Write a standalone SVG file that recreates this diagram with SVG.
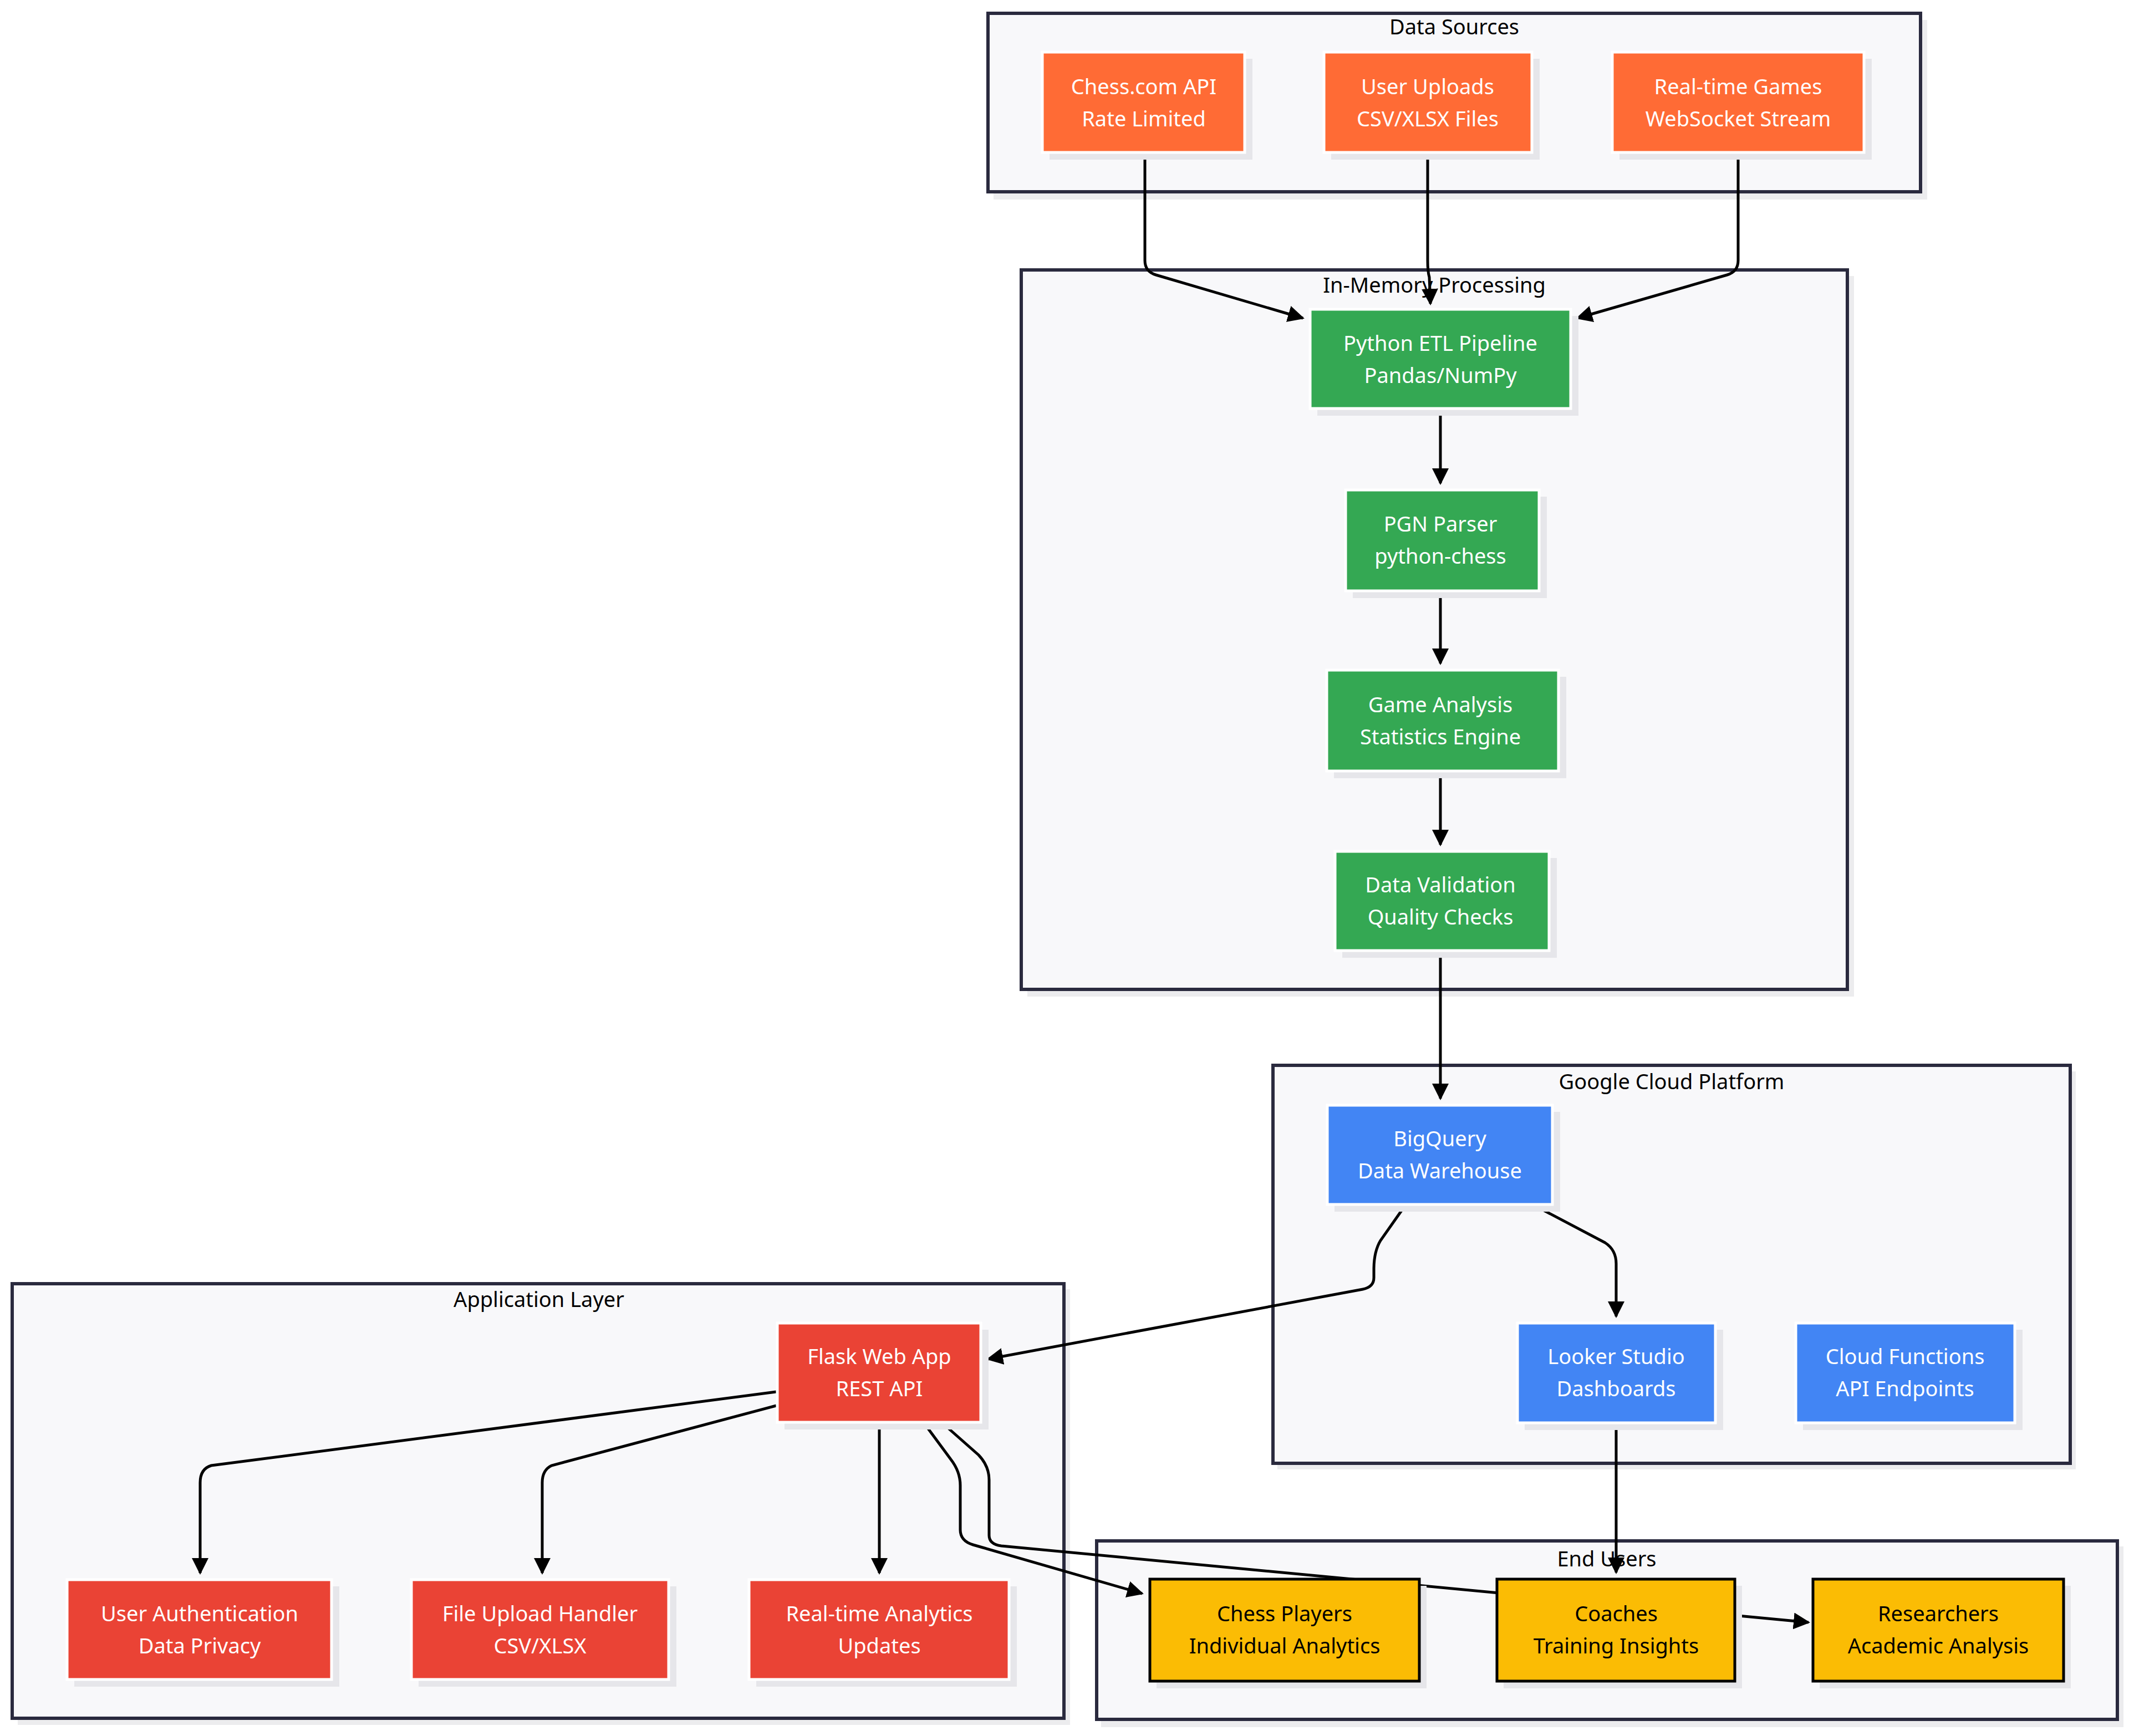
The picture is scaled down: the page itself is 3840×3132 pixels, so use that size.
<svg xmlns="http://www.w3.org/2000/svg" width="3840" height="3132" viewBox="0 0 3840 3132">
<style>
.cl{fill:#f8f8fa;stroke:#2a2a3e;stroke-width:6}
.cs{fill:#ececee}
.sh{fill:#e6e6ea}
.ct{font-family:"Noto Sans",sans-serif;font-size:38px;fill:#000;text-anchor:middle}
.t{font-family:"Noto Sans",sans-serif;font-size:38px;fill:#fff;text-anchor:middle}
.tk{font-family:"Noto Sans",sans-serif;font-size:38px;fill:#000;text-anchor:middle}
.o{fill:#FF6B35;stroke:#fff;stroke-width:5}
.g{fill:#34A853;stroke:#fff;stroke-width:5}
.b{fill:#4285F4;stroke:#fff;stroke-width:5}
.r{fill:#EA4335;stroke:#fff;stroke-width:5}
.y{fill:#FBBC04;stroke:#000;stroke-width:5}
.e{fill:none;stroke:#000;stroke-width:5}
</style>
<defs>
<marker id="ah" viewBox="0 0 10 10" refX="9" refY="5" markerWidth="6" markerHeight="6" markerUnits="strokeWidth" orient="auto">
<path d="M0,0 L10,5 L0,10 z" fill="#000"/>
</marker>
</defs>
<rect width="3840" height="3132" fill="#fff"/>
<g id="clusters">
<rect class="cs" x="1792" y="36" width="1684" height="324"/>
<rect class="cl" x="1782" y="24" width="1682" height="322"/>
<text class="ct" x="2623" y="62">Data Sources</text>
<rect class="cs" x="1853" y="498" width="1491" height="1300"/>
<rect class="cl" x="1842" y="487" width="1490" height="1298"/>
<text class="ct" x="2587" y="528">In-Memory Processing</text>
<rect class="cs" x="2304" y="1933" width="1440" height="718"/>
<rect class="cl" x="2296" y="1922" width="1438" height="718"/>
<text class="ct" x="3015" y="1965">Google Cloud Platform</text>
<rect class="cs" x="32" y="2326" width="1898" height="786"/>
<rect class="cl" x="22" y="2316" width="1897" height="784"/>
<text class="ct" x="972" y="2358">Application Layer</text>
<rect class="cs" x="1986" y="2790" width="1844" height="326"/>
<rect class="cl" x="1978" y="2780" width="1841" height="322"/>
<text class="ct" x="2898" y="2826">End Users</text>
</g>
<g id="connectors">
<path class="e" marker-end="url(#ah)" d="M2065,278 L2065,470 Q2065,490 2085,496 L2350,574"/>
<path class="e" marker-end="url(#ah)" d="M2575,278 L2575,470 Q2575,490 2578,500 L2580,548"/>
<path class="e" marker-end="url(#ah)" d="M3135,278 L3135,470 Q3135,490 3115,496 L2845,574"/>
<path class="e" marker-end="url(#ah)" d="M2598,740 L2598,872"/>
<path class="e" marker-end="url(#ah)" d="M2598,1069 L2598,1197"/>
<path class="e" marker-end="url(#ah)" d="M2598,1394 L2598,1524"/>
<path class="e" marker-end="url(#ah)" d="M2598,1718 L2598,1982"/>
<path class="e" marker-end="url(#ah)" d="M2528,2184 L2490,2238 Q2478,2258 2478,2290 L2478,2305 Q2478,2322 2458,2326 L1782,2452"/>
<path class="e" marker-end="url(#ah)" d="M2785,2184 L2895,2242 Q2915,2255 2915,2280 L2915,2375"/>
<path class="e" marker-end="url(#ah)" d="M1400,2511 L381,2644 Q361,2650 361,2675 L361,2838"/>
<path class="e" marker-end="url(#ah)" d="M1400,2536 L995,2644 Q978,2652 978,2675 L978,2838"/>
<path class="e" marker-end="url(#ah)" d="M1586,2569 L1586,2838"/>
<path class="e" marker-end="url(#ah)" d="M1670,2572 L1715,2633 Q1732,2655 1732,2680 L1732,2760 Q1732,2780 1755,2787 L2060,2875"/>
<path class="e" marker-end="url(#ah)" d="M1705,2572 L1765,2625 Q1784,2645 1784,2670 L1784,2770 Q1784,2786 1806,2789 L3262,2927"/>
<path class="e" marker-end="url(#ah)" d="M2915,2570 L2915,2837"/>
</g>
<g id="n-chesscom"><rect class="sh" x="1893" y="106" width="366" height="182"/><rect class="o" x="1880" y="94" width="365" height="181"/><text class="t" x="2063" y="170">Chess.com API</text><text class="t" x="2063" y="228">Rate Limited</text></g>
<g id="n-uploads"><rect class="sh" x="2401" y="106" width="376" height="182"/><rect class="o" x="2388" y="94" width="375" height="181"/><text class="t" x="2575" y="170">User Uploads</text><text class="t" x="2575" y="228">CSV/XLSX Files</text></g>
<g id="n-realtime"><rect class="sh" x="2921" y="106" width="455" height="182"/><rect class="o" x="2908" y="94" width="454" height="181"/><text class="t" x="3135" y="170">Real-time Games</text><text class="t" x="3135" y="228">WebSocket Stream</text></g>
<g id="n-etl"><rect class="sh" x="2376" y="570" width="471" height="180"/><rect class="g" x="2363" y="558" width="470" height="179"/><text class="t" x="2598" y="633">Python ETL Pipeline</text><text class="t" x="2598" y="691">Pandas/NumPy</text></g>
<g id="n-pgn"><rect class="sh" x="2440" y="896" width="350" height="183"/><rect class="g" x="2427" y="884" width="349" height="182"/><text class="t" x="2598" y="959">PGN Parser</text><text class="t" x="2598" y="1017">python-chess</text></g>
<g id="n-analysis"><rect class="sh" x="2406" y="1221" width="419" height="183"/><rect class="g" x="2393" y="1209" width="418" height="182"/><text class="t" x="2598" y="1285">Game Analysis</text><text class="t" x="2598" y="1343">Statistics Engine</text></g>
<g id="n-validation"><rect class="sh" x="2421" y="1548" width="387" height="180"/><rect class="g" x="2408" y="1536" width="386" height="179"/><text class="t" x="2598" y="1610">Data Validation</text><text class="t" x="2598" y="1668">Quality Checks</text></g>
<g id="n-bigquery"><rect class="sh" x="2407" y="2006" width="407" height="180"/><rect class="b" x="2394" y="1994" width="406" height="179"/><text class="t" x="2597" y="2068">BigQuery</text><text class="t" x="2597" y="2126">Data Warehouse</text></g>
<g id="n-looker"><rect class="sh" x="2750" y="2399" width="358" height="181"/><rect class="b" x="2737" y="2387" width="357" height="180"/><text class="t" x="2915" y="2461">Looker Studio</text><text class="t" x="2915" y="2519">Dashboards</text></g>
<g id="n-cloudfn"><rect class="sh" x="3252" y="2399" width="396" height="181"/><rect class="b" x="3239" y="2387" width="395" height="180"/><text class="t" x="3436" y="2461">Cloud Functions</text><text class="t" x="3436" y="2519">API Endpoints</text></g>
<g id="n-flask"><rect class="sh" x="1415" y="2399" width="368" height="180"/><rect class="r" x="1402" y="2387" width="367" height="179"/><text class="t" x="1586" y="2461">Flask Web App</text><text class="t" x="1586" y="2519">REST API</text></g>
<g id="n-auth"><rect class="sh" x="134" y="2862" width="478" height="181"/><rect class="r" x="121" y="2850" width="477" height="180"/><text class="t" x="360" y="2925">User Authentication</text><text class="t" x="360" y="2983">Data Privacy</text></g>
<g id="n-fileupload"><rect class="sh" x="755" y="2862" width="465" height="181"/><rect class="r" x="742" y="2850" width="464" height="180"/><text class="t" x="974" y="2925">File Upload Handler</text><text class="t" x="974" y="2983">CSV/XLSX</text></g>
<g id="n-rtanalytics"><rect class="sh" x="1364" y="2862" width="470" height="181"/><rect class="r" x="1351" y="2850" width="469" height="180"/><text class="t" x="1586" y="2925">Real-time Analytics</text><text class="t" x="1586" y="2983">Updates</text></g>
<g id="n-players"><rect class="sh" x="2086" y="2861" width="487" height="185"/><rect class="y" x="2074" y="2849" width="486" height="184"/><text class="tk" x="2317" y="2925">Chess Players</text><text class="tk" x="2317" y="2983">Individual Analytics</text></g>
<g id="n-coaches"><rect class="sh" x="2712" y="2861" width="430" height="185"/><rect class="y" x="2700" y="2849" width="429" height="184"/><text class="tk" x="2915" y="2925">Coaches</text><text class="tk" x="2915" y="2983">Training Insights</text></g>
<g id="n-researchers"><rect class="sh" x="3282" y="2861" width="453" height="185"/><rect class="y" x="3270" y="2849" width="452" height="184"/><text class="tk" x="3496" y="2925">Researchers</text><text class="tk" x="3496" y="2983">Academic Analysis</text></g>
</svg>
